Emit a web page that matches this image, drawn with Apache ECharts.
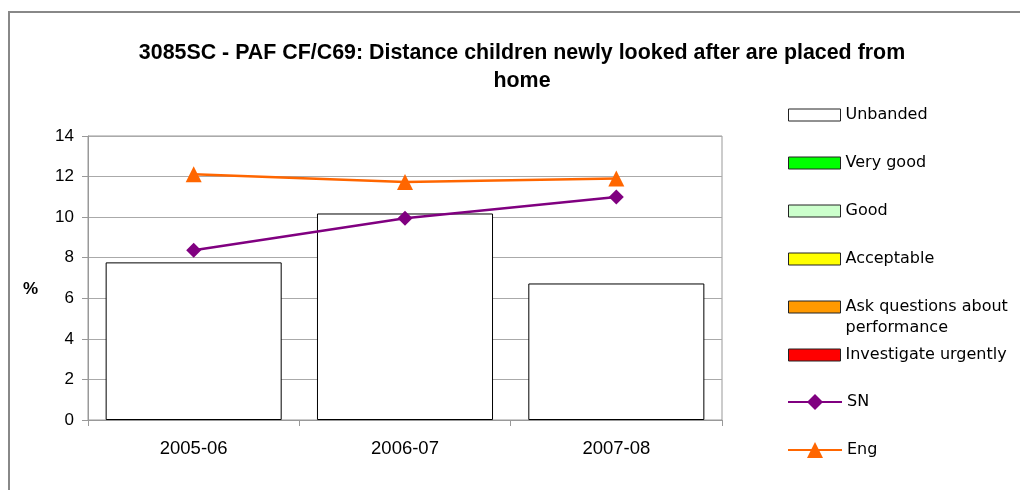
<!DOCTYPE html>
<html><head><meta charset="utf-8">
<script src="https://cdn.jsdelivr.net/npm/echarts@6/dist/echarts.min.js"></script>
<style>html,body{margin:0;padding:0;background:#fff}#c{width:1020px;height:490px}</style>
</head><body><div id="c"></div>
<script>
const categories = ['2005-06', '2006-07', '2007-08'];
const unbanded = [7.77, 10.18, 6.73];
const sn = [8.37, 9.95, 10.99];
const eng = [12.12, 11.73, 11.9];
const yTicks = [0, 2, 4, 6, 8, 10, 12, 14];
const bandNames = ['Unbanded', 'Very good', 'Good', 'Acceptable', 'Ask questions about performance', 'Investigate urgently'];
const bandColors = ['#ffffff', '#00ff00', '#ccffcc', '#ffff00', '#ff9900', '#ff0000'];
const titleText = '3085SC - PAF CF/C69: Distance children newly looked after are placed from\nhome';

const chart = echarts.init(document.getElementById('c'), null, {renderer: 'canvas'});
const bandSeries = bandNames.map((n, i) => ({
  name: n, type: 'bar', stack: 'b',
  data: i === 0 ? unbanded : [],
  barCategoryGap: '16.7%',
  itemStyle: {color: bandColors[i], borderColor: '#000', borderWidth: 1},
  emphasis: {disabled: true}
}));
const legendCenters = [115, 163, 211, 259, 307, 355, 402, 450];
const legendNames = bandNames.concat(['SN', 'Eng']);
const legends = legendNames.map((n, i) => {
  const isLine = i >= 6;
  const isAsk = i === 4;
  const lg = {
    data: [n], left: isLine ? 787 : 788,
    top: isAsk ? legendCenters[i] - 31.5 : legendCenters[i] - 10, padding: 0,
    itemWidth: isLine ? 54 : 52, itemHeight: isLine ? 20 : 12,
    selectedMode: false,
    formatter: isAsk ? ' \nAsk questions about\nperformance' : '{name}',
    textStyle: {fontFamily: 'DejaVu Sans', fontSize: 16, color: '#000', lineHeight: isAsk ? 21 : 20}
  };
  if (!isLine) {
    lg.icon = 'rect';
    lg.itemStyle = {borderWidth: 1, borderColor: '#222'};
  }
  return lg;
});
chart.setOption({
  animation: false,
  title: {
    text: titleText, left: 522, textAlign: 'center', top: 39, padding: 0,
    textStyle: {fontFamily: 'Liberation Sans', fontWeight: 'bold', fontSize: 21.4, lineHeight: 28, color: '#000'}
  },
  legend: legends,
  graphic: [{type: 'rect', shape: {x: 9, y: 12, width: 1040, height: 500}, style: {fill: 'none', stroke: '#888', lineWidth: 2}, silent: true, z: -10}],
  grid: {left: 88, top: 136, right: 298, bottom: 70, show: true, borderColor: '#999', borderWidth: 1, backgroundColor: '#fff'},
  xAxis: {
    type: 'category', data: categories,
    axisLine: {lineStyle: {color: '#999'}},
    axisTick: {show: true, length: 6, lineStyle: {color: '#999'}},
    axisLabel: {margin: 19, fontFamily: 'Liberation Sans', fontSize: 18.5, color: '#000'}
  },
  yAxis: {
    type: 'value', min: 0, max: 14, interval: 2,
    name: ' \n%', nameLocation: 'middle', nameRotate: 0, nameGap: 50,
    nameTextStyle: {fontFamily: 'Liberation Sans', fontWeight: 'bold', fontSize: 17, color: '#000', lineHeight: 22},
    axisLine: {show: true, lineStyle: {color: '#999'}},
    axisTick: {show: true, length: 6, lineStyle: {color: '#999'}},
    splitLine: {lineStyle: {color: '#aaa'}},
    axisLabel: {margin: 14, fontFamily: 'Liberation Sans', fontSize: 17, color: '#000',
      formatter: v => yTicks.includes(v) ? String(v) : ''}
  },
  series: bandSeries.concat([
    {name: 'SN', type: 'line', data: sn, symbol: 'diamond', symbolSize: 15,
     lineStyle: {color: '#800080', width: 2.5}, itemStyle: {color: '#800080'}, z: 5, emphasis: {disabled: true}},
    {name: 'Eng', type: 'line', data: eng, symbol: 'triangle', symbolSize: 16,
     lineStyle: {color: '#ff6600', width: 2.5}, itemStyle: {color: '#ff6600'}, z: 6, emphasis: {disabled: true}}
  ])
});
</script></body></html>
